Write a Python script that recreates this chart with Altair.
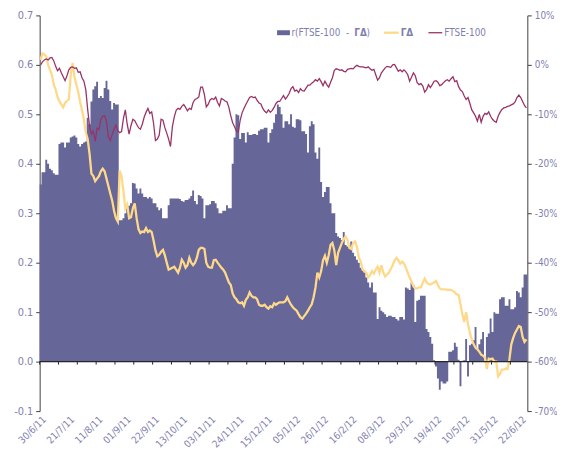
import altair as alt
import pandas as pd

# ---------------- data ----------------
x_labels = ["30/6/11", "21/7/11", "11/8/11", "01/9/11", "22/9/11", "13/10/11",
            "03/11/11", "24/11/11", "15/12/11", "05/1/12", "26/1/12", "16/2/12",
            "08/3/12", "29/3/12", "19/4/12", "10/5/12", "31/5/12", "22/6/12"]
label_step = 15

r_values = [
    0.358, 0.383, 0.383, 0.408, 0.400, 0.390, 0.387, 0.381, 0.378, 0.378,
    0.440, 0.443, 0.443, 0.433, 0.443, 0.443, 0.453, 0.455, 0.457, 0.453,
    0.440, 0.435, 0.440, 0.443, 0.445, 0.493, 0.480, 0.526, 0.550, 0.557,
    0.566, 0.533, 0.537, 0.533, 0.553, 0.568, 0.550, 0.527, 0.510, 0.523,
    0.520, 0.520, 0.286, 0.286, 0.290, 0.300, 0.310, 0.315, 0.320, 0.361,
    0.360, 0.350, 0.340, 0.350, 0.340, 0.333, 0.333, 0.330, 0.333, 0.330,
    0.320, 0.320, 0.312, 0.306, 0.310, 0.290, 0.290, 0.290, 0.316, 0.330,
    0.330, 0.330, 0.330, 0.330, 0.329, 0.325, 0.323, 0.327, 0.327, 0.330,
    0.335, 0.346, 0.325, 0.318, 0.337, 0.335, 0.330, 0.290, 0.316, 0.316,
    0.318, 0.325, 0.325, 0.320, 0.310, 0.300, 0.300, 0.305, 0.305, 0.316,
    0.310, 0.310, 0.400, 0.453, 0.500, 0.498, 0.450, 0.462, 0.462, 0.443,
    0.464, 0.458, 0.458, 0.460, 0.460, 0.458, 0.467, 0.470, 0.470, 0.473,
    0.473, 0.443, 0.462, 0.470, 0.483, 0.500, 0.520, 0.515, 0.500, 0.473,
    0.486, 0.486, 0.480, 0.500, 0.475, 0.473, 0.490, 0.490, 0.488, 0.466,
    0.466, 0.460, 0.423, 0.476, 0.486, 0.480, 0.423, 0.410, 0.433, 0.363,
    0.333, 0.343, 0.353, 0.353, 0.320, 0.300, 0.300, 0.260, 0.253, 0.250,
    0.246, 0.262, 0.236, 0.233, 0.230, 0.243, 0.220, 0.213, 0.206, 0.200,
    0.190, 0.186, 0.180, 0.170, 0.160, 0.150, 0.160, 0.140, 0.140, 0.086,
    0.110, 0.103, 0.100, 0.096, 0.090, 0.093, 0.093, 0.090, 0.090, 0.086,
    0.083, 0.090, 0.090, 0.085, 0.150, 0.148, 0.145, 0.160, 0.155, 0.080,
    0.123, 0.125, 0.133, 0.133, 0.133, 0.066, 0.060, 0.050, 0.036, 0.003,
    -0.010, -0.034, -0.057, -0.040, -0.044, -0.044, -0.040, 0.020, 0.020, 0.023,
    0.038, 0.030, 0.004, -0.050, 0.002, 0.003, 0.046, -0.030, 0.033, 0.036,
    0.043, 0.070, 0.026, 0.035, 0.045, 0.060, 0.003, 0.050, 0.057, 0.087,
    0.060, 0.100, 0.097, 0.097, 0.126, 0.130, 0.130, 0.113, 0.113, 0.126,
    0.106, 0.106, 0.110, 0.143, 0.140, 0.130, 0.150, 0.176, 0.176,
]

gamma_delta = [
    0.610, 0.623, 0.621, 0.617, 0.600, 0.590, 0.580, 0.560, 0.550, 0.535,
    0.526, 0.520, 0.514, 0.523, 0.527, 0.530, 0.580, 0.604, 0.575, 0.560,
    0.545, 0.525, 0.508, 0.490, 0.463, 0.450, 0.420, 0.380, 0.375, 0.365,
    0.370, 0.375, 0.385, 0.390, 0.385, 0.370, 0.355, 0.340, 0.326, 0.305,
    0.290, 0.283, 0.386, 0.375, 0.345, 0.310, 0.318, 0.290, 0.292, 0.310,
    0.320, 0.290, 0.268, 0.260, 0.263, 0.262, 0.270, 0.262, 0.265, 0.262,
    0.245, 0.225, 0.213, 0.216, 0.222, 0.226, 0.215, 0.200, 0.186, 0.188,
    0.190, 0.192, 0.186, 0.180, 0.190, 0.206, 0.200, 0.190, 0.195, 0.210,
    0.200, 0.195, 0.200, 0.210, 0.226, 0.230, 0.230, 0.228, 0.200, 0.192,
    0.190, 0.190, 0.205, 0.206, 0.200, 0.195, 0.190, 0.186, 0.180, 0.170,
    0.160, 0.155, 0.138, 0.130, 0.126, 0.120, 0.118, 0.120, 0.113, 0.125,
    0.130, 0.140, 0.133, 0.130, 0.130, 0.126, 0.115, 0.113, 0.113, 0.115,
    0.110, 0.107, 0.112, 0.110, 0.118, 0.115, 0.118, 0.120, 0.120, 0.120,
    0.122, 0.130, 0.122, 0.115, 0.110, 0.106, 0.103, 0.096, 0.090, 0.087,
    0.092, 0.097, 0.103, 0.110, 0.116, 0.130, 0.150, 0.180, 0.170, 0.183,
    0.205, 0.214, 0.200, 0.215, 0.236, 0.240, 0.225, 0.195, 0.220, 0.230,
    0.240, 0.248, 0.253, 0.246, 0.230, 0.228, 0.240, 0.243, 0.232, 0.210,
    0.203, 0.186, 0.183, 0.180, 0.170, 0.175, 0.183, 0.178, 0.186, 0.192,
    0.180, 0.195, 0.180, 0.172, 0.176, 0.180, 0.188, 0.195, 0.205, 0.210,
    0.205, 0.198, 0.202, 0.198, 0.190, 0.180, 0.170, 0.162, 0.152, 0.148,
    0.148, 0.150, 0.150, 0.160, 0.168, 0.160, 0.157, 0.156, 0.158, 0.160,
    0.163, 0.155, 0.148, 0.146, 0.146, 0.146, 0.145, 0.145, 0.145, 0.143,
    0.140, 0.136, 0.135, 0.116, 0.095, 0.080, 0.100, 0.076, 0.058, 0.045,
    0.035, 0.028, 0.025, 0.020, 0.014, 0.012, 0.008, -0.015, 0.006, 0.005,
    0.006, 0.000, 0.000, -0.030, -0.025, -0.016, -0.016, -0.014, -0.015, 0.005,
    0.035, 0.048, 0.058, 0.065, 0.072, 0.070, 0.050, 0.040, 0.045,
]

ftse_pct = [
    0.0, 0.6, 1.0, 1.2, 1.0, 1.4, 1.5, 0.8, -0.3, -1.2,
    -0.7, -1.6, -2.4, -3.2, -2.2, -1.0, -0.5, -0.4, -0.7, -0.6,
    -1.5, -1.4, -2.6, -3.3, -5.0, -9.0, -12.3, -14.0, -13.4, -15.5,
    -12.8, -13.1, -11.0, -10.4, -10.3, -11.5, -14.5, -15.3, -14.1, -13.0,
    -12.2, -13.3, -13.7, -13.5, -10.8, -9.1, -12.0, -14.0, -12.3, -11.0,
    -11.3, -12.0, -12.7, -13.0, -12.0, -10.6, -9.6, -8.8, -9.8, -9.5,
    -11.8, -15.3, -15.0, -14.2, -11.0, -11.2, -12.7, -13.8, -15.0, -16.5,
    -12.5, -10.5, -9.2, -8.8, -9.0, -8.4, -8.0, -8.6, -9.3, -8.8,
    -9.0, -7.6, -7.0, -6.8, -6.5, -4.5, -4.5, -6.0, -8.5, -8.0,
    -7.1, -6.8, -7.0, -6.5, -7.6, -8.3, -6.8, -7.0, -7.3, -7.5,
    -8.6, -10.3, -11.7, -12.5, -13.4, -13.6, -11.2, -9.7, -8.8, -8.0,
    -7.3, -6.6, -6.4, -6.6, -6.5, -7.2, -7.7, -7.9, -8.8, -9.4,
    -9.7, -9.1, -9.6, -9.2, -8.6, -7.8, -7.4, -7.4, -6.8, -6.2,
    -6.9, -6.4, -5.8, -4.8, -4.4, -5.3, -5.1, -5.6, -4.8, -5.2,
    -5.3, -4.7, -4.1, -4.1, -3.7, -3.4, -3.0, -3.3, -2.8, -3.4,
    -4.2, -3.3, -4.0, -4.5, -3.5, -2.6, -1.1, -0.8, -0.9, -1.1,
    -1.0, -1.3, -1.4, -0.9, -0.8, -0.7, -0.8, -0.4, -0.1, -0.3,
    -0.4, -0.4, -0.5, -0.6, -0.4, -0.8, -1.1, -0.9, -2.0, -3.1,
    -2.6, -1.6, -1.1, -0.6, -0.3, -0.4, -0.5, 0.0, 0.1, -0.6,
    -1.3, -1.0, -1.4, -1.0, -1.4, -2.0, -3.3, -2.5, -1.6, -2.2,
    -3.6, -4.0, -3.8, -4.3, -5.5, -5.0, -4.0, -4.6, -4.0, -3.3,
    -3.2, -3.5, -4.2, -4.0, -3.6, -3.2, -3.0, -3.3, -2.8, -2.4,
    -3.4, -3.2, -4.4, -5.1, -5.4, -6.3, -7.0, -6.6, -7.8, -9.1,
    -9.7, -10.4, -11.4, -10.0, -11.6, -10.4, -9.8, -10.0, -9.5, -10.4,
    -11.0, -11.4, -11.6, -10.4, -9.6, -9.0, -8.7, -8.6, -8.4, -8.3,
    -8.1, -7.9, -7.5, -6.6, -6.1, -6.6, -7.4, -8.2, -8.7,
]

left_ticks = [-0.1, 0.0, 0.1, 0.2, 0.3, 0.4, 0.5, 0.6, 0.7]
right_ticks = [-70, -60, -50, -40, -30, -20, -10, 0, 10]

legend_bar = "r(FTSE-100\u00a0\u00a0-"
legend_gd = "ΓΔ"
legend_ftse = "FTSE-100"

# ---------------- frame ----------------
n = len(r_values)
df = pd.DataFrame({"i": list(range(n)), "r": r_values, "gd": gamma_delta, "ftse": ftse_pct})
df["xm"] = df["i"] + 0.5

# step-area version of the daily bars: each value holds from i to i+1
bars_df = pd.DataFrame({"x0": list(range(n + 1)), "r": r_values + [r_values[-1]]})
bars_df["zero"] = 0.0
bars_df["tick_end"] = -0.006

BAR = "#666699"
YEL = "#FFD98A"
PUR = "#993366"
LAB = "#7F7FB0"
AX = "#404040"
FONT = "DejaVu Sans Condensed"

W, H = 493, 400

label_js = "[" + ",".join("'" + s + "'" for s in x_labels) + "]"
x_scale = alt.Scale(domain=[0, n], nice=False, zero=False)
x_axis = alt.Axis(
    values=[k * label_step + 0.5 for k in range(len(x_labels))],
    labelExpr=label_js + "[round((datum.value - 0.5) / " + str(label_step) + ")]",
    labelAngle=315, domain=False, ticks=False, grid=False, title=None,
    labelColor=LAB, labelFont=FONT, labelFontSize=10, labelPadding=3,
    labelOverlap=False,
)

left_scale = alt.Scale(domain=[-0.1, 0.7], nice=False, zero=False)
left_axis = alt.Axis(
    values=left_ticks, orient="left", grid=False, title=None,
    labelExpr="(datum.value < -0.0001 ? '-' : '') + format(abs(datum.value), '.1f')",
    domainColor=AX, tickColor=AX, tickSize=4, labelColor=LAB, labelFont=FONT,
    labelFontSize=11, labelPadding=3,
)
right_scale = alt.Scale(domain=[-70, 10], nice=False, zero=False)
right_axis = alt.Axis(
    values=right_ticks, orient="right", grid=False, title=None,
    labelExpr="(datum.value < 0 ? '-' : '') + abs(datum.value) + '%'",
    domainColor=AX, tickColor=AX, tickSize=4, labelColor=LAB, labelFont=FONT,
    labelFontSize=10, labelPadding=3,
)

bars = alt.Chart(bars_df).mark_area(color=BAR, interpolate="step-after", opacity=1).encode(
    x=alt.X("x0:Q", scale=x_scale, axis=x_axis),
    y=alt.Y("r:Q", scale=left_scale, axis=left_axis),
    y2=alt.datum(0),
)

gd_line = alt.Chart(df).mark_line(color=YEL, strokeWidth=2.3).encode(
    x=alt.X("xm:Q", scale=x_scale, axis=x_axis),
    y=alt.Y("gd:Q", scale=left_scale, axis=left_axis),
)

left_layer = alt.layer(bars, gd_line)

# zero line (category axis crossing) drawn as its own layer, same left scale
zero_line = alt.Chart(bars_df).mark_line(color="#262626", strokeWidth=1.2).encode(
    x=alt.X("x0:Q", scale=x_scale, axis=x_axis),
    y=alt.Y("zero:Q", scale=left_scale, axis=None),
)
zero_ticks = alt.Chart(bars_df).transform_filter("datum.x0 % 10 == 0").mark_rule(
    color="#262626", strokeWidth=1
).encode(
    x=alt.X("x0:Q", scale=x_scale, axis=x_axis),
    y=alt.Y("zero:Q", scale=left_scale, axis=None),
    y2="tick_end:Q",
)
zero_layer = alt.layer(zero_line, zero_ticks)

ftse_line = alt.Chart(df).mark_line(color=PUR, strokeWidth=1.3).encode(
    x=alt.X("xm:Q", scale=x_scale, axis=x_axis),
    y=alt.Y("ftse:Q", scale=right_scale, axis=right_axis),
)

one = pd.DataFrame({"k": [0]})
leg_y = 17.5
LFS = 10
leg_swatch = alt.Chart(one).mark_rect(color=BAR).encode(
    x=alt.value(240), x2=alt.value(253), y=alt.value(leg_y - 2.5), y2=alt.value(leg_y + 2.5)
)
leg_t1 = alt.Chart(one).mark_text(align="left", baseline="middle", font=FONT, fontSize=LFS, color=LAB).encode(
    x=alt.value(254.5), y=alt.value(leg_y), text=alt.value(legend_bar)
)
leg_t2 = alt.Chart(one).mark_text(align="left", baseline="middle", font=FONT, fontSize=LFS, fontWeight="bold", color=LAB).encode(
    x=alt.value(318), y=alt.value(leg_y), text=alt.value(legend_gd)
)
leg_t3 = alt.Chart(one).mark_text(align="left", baseline="middle", font=FONT, fontSize=LFS, color=LAB).encode(
    x=alt.value(330.5), y=alt.value(leg_y), text=alt.value(")")
)
leg_yl = alt.Chart(one).mark_rule(color=YEL, strokeWidth=2.3).encode(
    x=alt.value(348), x2=alt.value(363), y=alt.value(leg_y)
)
leg_t4 = alt.Chart(one).mark_text(align="left", baseline="middle", font=FONT, fontSize=LFS, fontWeight="bold", color=LAB).encode(
    x=alt.value(365), y=alt.value(leg_y), text=alt.value(legend_gd)
)
leg_pl = alt.Chart(one).mark_rule(color=PUR, strokeWidth=1.3).encode(
    x=alt.value(393), x2=alt.value(407), y=alt.value(leg_y)
)
leg_t5 = alt.Chart(one).mark_text(align="left", baseline="middle", font=FONT, fontSize=LFS, color=LAB).encode(
    x=alt.value(409), y=alt.value(leg_y), text=alt.value(legend_ftse)
)

chart = alt.layer(
    left_layer, zero_layer, ftse_line,
    leg_swatch, leg_t1, leg_t2, leg_t3, leg_yl, leg_t4, leg_pl, leg_t5,
).resolve_scale(y="independent").properties(
    width=W, height=H,
    padding={"left": 32, "top": 5, "right": 30, "bottom": 51},
    autosize=alt.AutoSizeParams(type="none"),
    background="white",
).configure_view(stroke=None)

chart.save("out.html", embed_options={"renderer": "svg", "actions": False})
